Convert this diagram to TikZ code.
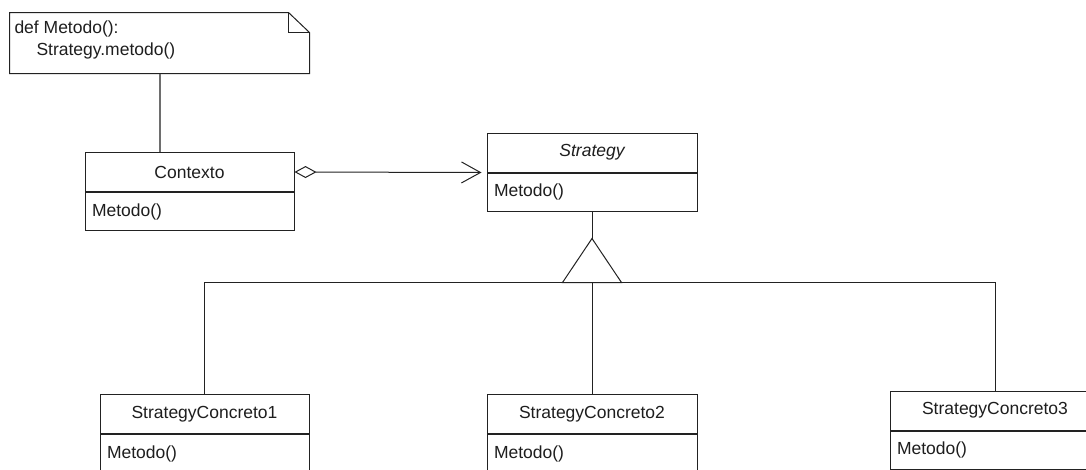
\documentclass[tikz,border=0pt]{standalone}
\usepackage{fontspec}
\setmainfont{Liberation Sans}
\usetikzlibrary{arrows.meta}
\definecolor{ink}{HTML}{222222}
\definecolor{txt}{HTML}{1E1E1E}
\definecolor{dashgray}{HTML}{6E6E6E}
\begin{document}
\begin{tikzpicture}[x=1pt,y=-1pt,
  line width=1pt,
  every node/.style={text=txt, font=\fontsize{17.5}{22}\selectfont},
  classhead/.style={draw=ink, fill=white, minimum width=209pt, minimum height=39pt, inner sep=0pt},
  classbody/.style={draw=ink, fill=white, text width=195pt, inner xsep=7pt, inner ysep=0pt, minimum height=38pt, align=left},
  notebox/.style={minimum width=299pt, minimum height=60pt, inner sep=0pt},
  link/.style={draw=ink},
  notelink/.style={draw=dashgray, line width=1.2pt}
]
\useasboundingbox (0,0) rectangle (1086,469);
\clip (0,0) rectangle (1086,469);

% note
\node[notebox] (note) at (159.5,43) {};
\draw[ink] (note.north west) -- ([xshift=-21pt]note.north east) -- ([yshift=-20pt]note.north east) -- (note.south east) -- (note.south west) -- cycle;
\draw[ink] ([xshift=-21pt]note.north east) -- ([xshift=-21pt,yshift=-20pt]note.north east) -- ([yshift=-20pt]note.north east);
\node[anchor=north west, inner sep=0pt, align=left] (notetext) at (14,20.5) {def Metodo():\\\hspace*{22pt}Strategy.metodo()};

% Contexto
\node[classhead] (ctxhead) at (189.5,172) {Contexto};
\node[classbody, anchor=north] (ctxbody) at (ctxhead.south) {Metodo()};

% Strategy
\node[classhead, minimum width=210pt] (strathead) at (592,152.5) {\itshape Strategy};
\node[classbody, anchor=north, text width=196pt] (stratbody) at (strathead.south) {Metodo()};

% concrete strategies
\node[classhead] (sc1head) at (204.5,414) {StrategyConcreto1};
\node[classbody, anchor=north] (sc1body) at (sc1head.south) {Metodo()};
\node[classhead, minimum width=210pt] (sc2head) at (592,414) {StrategyConcreto2};
\node[classbody, anchor=north, text width=196pt] (sc2body) at (sc2head.south) {Metodo()};
\node[classhead, minimum width=210pt] (sc3head) at (995,410.5) {StrategyConcreto3};
\node[classbody, anchor=north, text width=196pt] (sc3body) at (sc3head.south) {Metodo()};

% note link
\draw[notelink] (note.south -| 160,0) -- (ctxhead.north -| 160,0);

% aggregation
\draw[link, {Diamond[open, fill=white, length=22pt, width=12pt]}-{Straight Barb[length=19pt, width=21pt]}, shorten >=5pt]
  (ctxhead.east) -- (strathead.south west);

% inheritance
\draw[link] (stratbody.south) -- ++(0,27) coordinate (apex);
\coordinate (tribase) at ([yshift=-44pt]apex);
\draw[link] (sc1head.north) |- (tribase) -| (sc3head.north);
\draw[link] (tribase) -- (sc2head.north);
\draw[link, fill=white] (apex) -- ([xshift=-29.5pt]tribase) -- ([xshift=29.5pt]tribase) -- cycle;
\end{tikzpicture}
\end{document}
